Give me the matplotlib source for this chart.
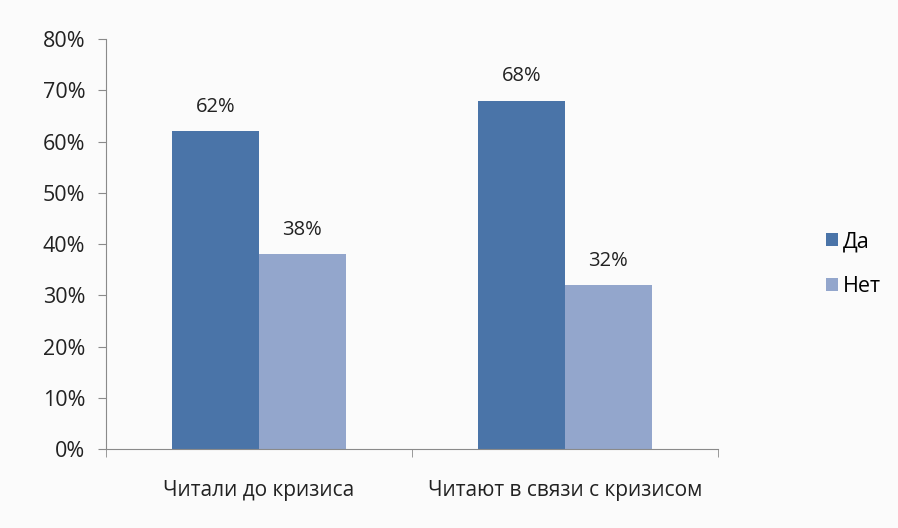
import matplotlib.pyplot as plt
import numpy as np

categories = ["Читали до кризиса", "Читают в связи с кризисом"]
series_names = ["Да", "Нет"]
da_values = [62, 68]
net_values = [38, 32]

plt.rcParams["font.family"] = ["Open Sans", "DejaVu Sans"]

fig = plt.figure(figsize=(8.98, 5.28), dpi=100)
fig.patch.set_facecolor("#fbfbfb")
ax = fig.add_axes([0.118, 0.1496, 0.6815, 0.7765])
ax.set_facecolor("none")

x = np.arange(len(categories))
w = 0.283
dark = "#4a74a8"
light = "#93a6cc"
b1 = ax.bar(x - w / 2, da_values, w, color=dark, label=series_names[0])
b2 = ax.bar(x + w / 2, net_values, w, color=light, label=series_names[1])

for bars, vals in ((b1, da_values), (b2, net_values)):
    for b, v in zip(bars, vals):
        ax.text(b.get_x() + b.get_width() / 2, v + 4.7, f"{v}%", ha="center", va="center",
                fontsize=14.5, color="#222222")

ax.set_xlim(-0.5, len(categories) - 0.5)
ax.set_ylim(0, 80)
ax.set_yticks(range(0, 81, 10))
ax.set_yticklabels([f"{t}%" for t in range(0, 81, 10)], fontsize=15.5, color="#222222")
ax.set_xticks(x)
ax.set_xticklabels(categories, fontsize=15, color="#222222")
ax.tick_params(axis="x", which="major", length=0, pad=22)
ax.set_xticks(np.arange(-0.5, len(categories)), minor=True)
ax.tick_params(axis="x", which="minor", length=6, color="#8a8a8a")
ax.tick_params(axis="y", length=6, color="#8a8a8a", pad=9)

for s in ("top", "right"):
    ax.spines[s].set_visible(False)
for s in ("left", "bottom"):
    ax.spines[s].set_color("#8a8a8a")

fig.legend(handles=[b1, b2], loc="center left", bbox_to_anchor=(0.898, 0.5), frameon=False,
           fontsize=15.5, handlelength=0.55, handleheight=0.55, handletextpad=0.25,
           labelspacing=1.1)

fig.savefig("out.png", dpi=100, facecolor=fig.get_facecolor())
